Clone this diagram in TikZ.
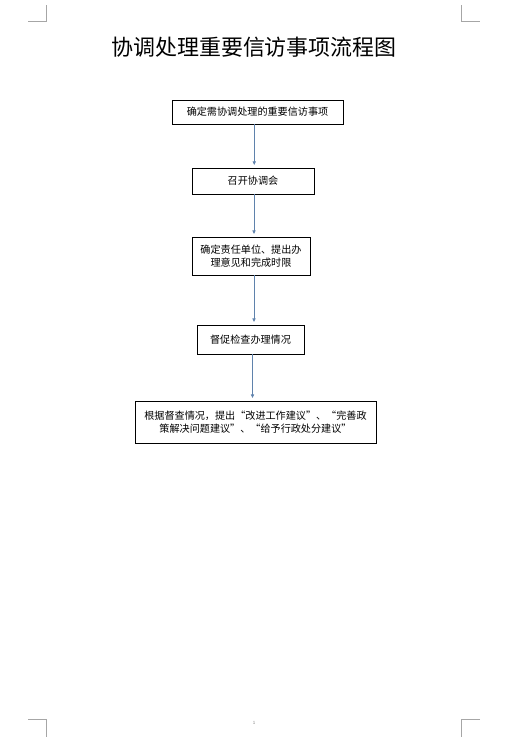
\documentclass[tikz,border=0pt]{standalone}
\usepackage{fontspec}
\setmainfont{Noto Sans CJK SC}
\newfontfamily\boxfont[RawFeature=+fwid]{Noto Sans CJK SC}
\usetikzlibrary{arrows.meta, positioning}
\definecolor{cblue}{HTML}{5F82AC}
\definecolor{cmark}{HTML}{A6A6A6}
\tikzset{
  every picture/.style={line width=0.8pt},
  box/.style={draw=black, fill=white, align=center, inner sep=2pt, font=\boxfont\fontsize{11.5}{15.5}\selectfont},
  arrow/.style={-{Triangle[length=4pt, width=3.6pt]}, draw=cblue, line width=0.8pt, shorten >=3pt},
  title/.style={font=\fontsize{25}{30}\selectfont},
  cropmark/.style={draw=cmark, line width=0.6pt},
  pagenum/.style={font=\fontsize{5}{6}\selectfont, text=gray, inner sep=0pt},
}

\begin{document}
\begin{tikzpicture}[x=0.04cm, y=-0.04cm]
  \useasboundingbox (0,0) rectangle (511,741);
  % page corner marks
  \draw[cropmark] (46.7,5) -- (46.7,21.7) -- (28.3,21.7);
  \draw[cropmark] (461.7,5) -- (461.7,21.7) -- (480,21.7);
  \draw[cropmark] (28.3,719.3) -- (46.7,719.3) -- (46.7,736.7);
  \draw[cropmark] (480,719.3) -- (461.7,719.3) -- (461.7,736.7);
  \node[pagenum] (pg) at (254,723) {1};
  % title
  \node[title] (ttl) at (254,47.5) {协调处理重要信访事项流程图};
  % flow boxes
  \node[box, minimum width=6.84cm, minimum height=0.96cm] (b1) at (257.5,112) {确定需协调处理的重要信访事项};
  \node[box, minimum width=4.88cm, minimum height=1.04cm] (b2) at (253,181) {召开协调会};
  \node[box, minimum width=4.72cm, minimum height=1.52cm] (b3) at (251,256) {确定责任单位、提出办\\理意见和完成时限};
  \node[box, minimum width=4.28cm, minimum height=1.16cm] (b4) at (250.5,339.5) {督促检查办理情况};
  \node[box, minimum width=9.64cm, minimum height=1.68cm] (b5) at (255.5,422) {根据督查情况，提出“改进工作建议”、“完善政\\策解决问题建议”、“给予行政处分建议”};
  \draw[arrow] ([xshift=-0.13cm]b1.south) -- ([xshift=-0.13cm]b1.south |- b2.north);
  \draw[arrow] ([xshift=0.04cm]b2.south) -- ([xshift=0.04cm]b2.south |- b3.north);
  \draw[arrow] ([xshift=0.12cm]b3.south) -- ([xshift=0.12cm]b3.south |- b4.north);
  \draw[arrow] ([xshift=0.08cm]b4.south) -- ([xshift=0.08cm]b4.south |- b5.north);
\end{tikzpicture}
\end{document}
